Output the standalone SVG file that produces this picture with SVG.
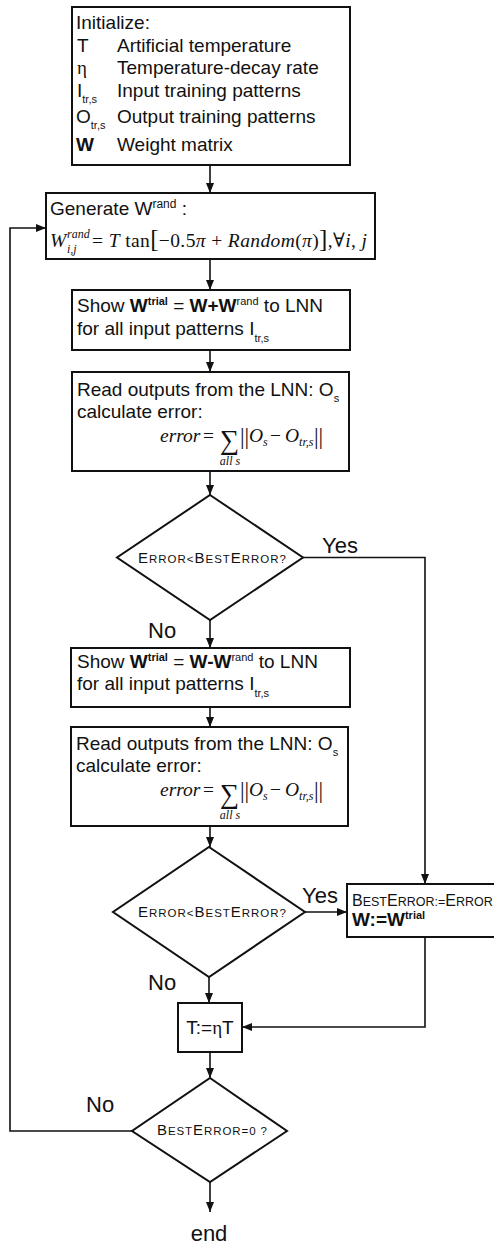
<svg xmlns="http://www.w3.org/2000/svg" width="494" height="1244" viewBox="0 0 494 1244">
<defs>
<marker id="ah" viewBox="0 0 10 10" refX="10" refY="5" markerWidth="10" markerHeight="10" markerUnits="userSpaceOnUse" orient="auto">
<path d="M0,1 L10,5 L0,9 z" fill="#111"/>
</marker>
<style>
.box{fill:#fff;stroke:#111;stroke-width:2}
.dia{fill:#fff;stroke:#111;stroke-width:2;stroke-linejoin:miter}
.t{font-family:"Liberation Sans",Arial,sans-serif;font-size:19px;fill:#111}
.m{font-family:"Liberation Serif","Times New Roman","DejaVu Serif",serif;font-size:19.5px;fill:#111}
.b{font-weight:bold}
.s11{font-size:11px}
.s12{font-size:12px}
.sig{font-size:27px}
.bar{font-size:23px}
.brk{font-size:25px}
.i{font-style:italic}
.gr{font-family:"Liberation Serif","Times New Roman",serif}
.sc{font-family:"Liberation Sans",Arial,sans-serif;fill:#111}
.cap{font-size:15px}
.sm{font-size:11.5px}
.cap2{font-size:16px}
.sm2{font-size:12.5px}
.lbl{font-family:"Liberation Sans",Arial,sans-serif;font-size:22px;fill:#111}
.c{fill:none;stroke:#111;stroke-width:1.6}
.a{marker-end:url(#ah)}
</style>
</defs>
<rect width="494" height="1244" fill="#fff"/>

<!-- connectors -->
<g id="connectors">
<path class="c a" d="M210,165 V193"/>
<path class="c a" d="M210,259 V290"/>
<path class="c a" d="M210,350 V372"/>
<path class="c a" d="M210,471 V495"/>
<path class="c a" d="M210,620 V648"/>
<path class="c a" d="M210,707 V727"/>
<path class="c a" d="M210,826 V847"/>
<path class="c a" d="M209,977 V1003"/>
<path class="c a" d="M210,1052 V1078"/>
<path class="c a" d="M210,1182 V1212"/>
<path class="c a" d="M303,557.5 H425 V884"/>
<path class="c a" d="M305,912 H347"/>
<path class="c a" d="M425,937 V1027 H242"/>
<path class="c a" d="M132,1131 H10 V228 H46"/>
<text class="lbl" x="322" y="553">Yes</text>
<text class="lbl" x="148" y="638">No</text>
<text class="lbl" x="302" y="903">Yes</text>
<text class="lbl" x="148" y="990">No</text>
<text class="lbl" x="86" y="1112">No</text>
</g>

<!-- initialisation -->
<g id="init">
<rect class="box" x="72" y="7" width="278" height="158"/>
<text class="t" x="76" y="29">Initialize:</text>
<text class="t" x="77" y="52">T</text>
<text class="t" x="117" y="52">Artificial temperature</text>
<text class="t gr" x="77" y="74">η</text>
<text class="t" x="117" y="74">Temperature-decay rate</text>
<text class="t" x="77" y="97">I<tspan class="s11" dy="6">tr,s</tspan></text>
<text class="t" x="117" y="97">Input training patterns</text>
<text class="t" x="76" y="123">O<tspan class="s11" dy="6">tr,s</tspan></text>
<text class="t" x="117" y="123">Output training patterns</text>
<text class="t b" x="76" y="151">W</text>
<text class="t" x="117" y="151">Weight matrix</text>
</g>

<!-- random weights -->
<g id="generate">
<rect class="box" x="46" y="193" width="329" height="66"/>
<text class="t" x="50" y="215">Generate W<tspan class="s12" dy="-7">rand</tspan><tspan dy="7"> :</tspan></text>
<text class="m i" x="50" y="247">W</text>
<text class="m i s12" x="67" y="238">rand</text>
<text class="m i s12" x="67" y="253">i,j</text>
<text class="m" x="92" y="247" textLength="275">= <tspan class="i">T</tspan> tan<tspan class="brk">[</tspan>−0.5<tspan class="i">π</tspan> + <tspan class="i">Random</tspan>(<tspan class="i">π</tspan>)<tspan class="brk">]</tspan>,∀<tspan class="i">i</tspan>, <tspan class="i">j</tspan></text>
</g>

<g id="show-plus">
<rect class="box" x="72" y="290" width="278" height="60"/>
<text class="t" x="77" y="312">Show <tspan class="b">W</tspan><tspan class="b s11" dy="-7">trial</tspan><tspan dy="7"> = </tspan><tspan class="b">W+W</tspan><tspan class="s11" dy="-7">rand</tspan><tspan dy="7"> to LNN</tspan></text>
<text class="t" x="77" y="335">for all input patterns I<tspan class="s11" dy="7">tr,s</tspan></text>
</g>

<g id="read-plus">
<rect class="box" x="72" y="372" width="277" height="99"/>
<text class="t" x="77" y="396">Read outputs from the LNN: O<tspan class="s11" dy="6">s</tspan></text>
<text class="t" x="77" y="418">calculate error:</text>
<text class="m i" x="160" y="442">error</text>
<text class="m" x="203" y="442">=</text>
<text class="m sig" x="220" y="449">∑</text>
<text class="m bar" x="240" y="444">||</text>
<text class="m i" x="249" y="442">O<tspan class="s12" dy="4">s</tspan></text>
<text class="m" x="270" y="442">−</text>
<text class="m i" x="285" y="442">O<tspan class="s12" dy="4">tr,s</tspan></text>
<text class="m bar" x="314" y="444">||</text>
<text class="m i s12" x="230" y="465" text-anchor="middle">all s</text>
</g>

<g id="decide-plus">
<polygon class="dia" points="210,495 303,557.5 210,620 117,557.5"/>
<text class="sc" x="138" y="563" textLength="148"><tspan class="cap">E</tspan><tspan class="sm">RROR&lt;</tspan><tspan class="cap">B</tspan><tspan class="sm">EST</tspan><tspan class="cap">E</tspan><tspan class="sm">RROR?</tspan></text>
</g>

<g id="show-minus">
<rect class="box" x="71" y="648" width="279" height="59"/>
<text class="t" x="77" y="668">Show <tspan class="b">W</tspan><tspan class="b s11" dy="-7">trial</tspan><tspan dy="7"> = </tspan><tspan class="b">W-W</tspan><tspan class="s11" dy="-7">rand</tspan><tspan dy="7"> to LNN</tspan></text>
<text class="t" x="77" y="690">for all input patterns I<tspan class="s11" dy="7">tr,s</tspan></text>
</g>

<g id="read-minus">
<rect class="box" x="71" y="727" width="277" height="99"/>
<text class="t" x="76" y="750">Read outputs from the LNN: O<tspan class="s11" dy="6">s</tspan></text>
<text class="t" x="76" y="772">calculate error:</text>
<text class="m i" x="160" y="796">error</text>
<text class="m" x="203" y="796">=</text>
<text class="m sig" x="220" y="803">∑</text>
<text class="m bar" x="240" y="798">||</text>
<text class="m i" x="249" y="796">O<tspan class="s12" dy="4">s</tspan></text>
<text class="m" x="270" y="796">−</text>
<text class="m i" x="285" y="796">O<tspan class="s12" dy="4">tr,s</tspan></text>
<text class="m bar" x="314" y="798">||</text>
<text class="m i s12" x="230" y="819" text-anchor="middle">all s</text>
</g>

<g id="decide-minus">
<polygon class="dia" points="209,847 305,912 209,977 113,912"/>
<text class="sc" x="138" y="917" textLength="148"><tspan class="cap">E</tspan><tspan class="sm">RROR&lt;</tspan><tspan class="cap">B</tspan><tspan class="sm">EST</tspan><tspan class="cap">E</tspan><tspan class="sm">RROR?</tspan></text>
</g>

<g id="accept">
<rect class="box" x="347" y="884" width="160" height="53"/>
<text class="sc" x="352" y="906"><tspan class="cap2">B</tspan><tspan class="sm2">EST</tspan><tspan class="cap2">E</tspan><tspan class="sm2">RROR:=</tspan><tspan class="cap2">E</tspan><tspan class="sm2">RROR</tspan></text>
<text class="t b" x="352" y="926">W:=W<tspan class="s11" dy="-7">trial</tspan></text>
</g>

<g id="cool">
<rect class="box" x="178" y="1003" width="64" height="49"/>
<text class="t" x="210" y="1034" text-anchor="middle">T:=<tspan class="gr">η</tspan>T</text>
</g>

<g id="stop-test">
<polygon class="dia" points="210,1078 287,1131 210,1182 132,1131"/>
<text class="sc" x="157" y="1135" textLength="110"><tspan class="cap">B</tspan><tspan class="sm">EST</tspan><tspan class="cap">E</tspan><tspan class="sm">RROR=0 ?</tspan></text>
</g>

<g id="end">
<text class="lbl" x="209" y="1241" text-anchor="middle">end</text>
</g>
</svg>
